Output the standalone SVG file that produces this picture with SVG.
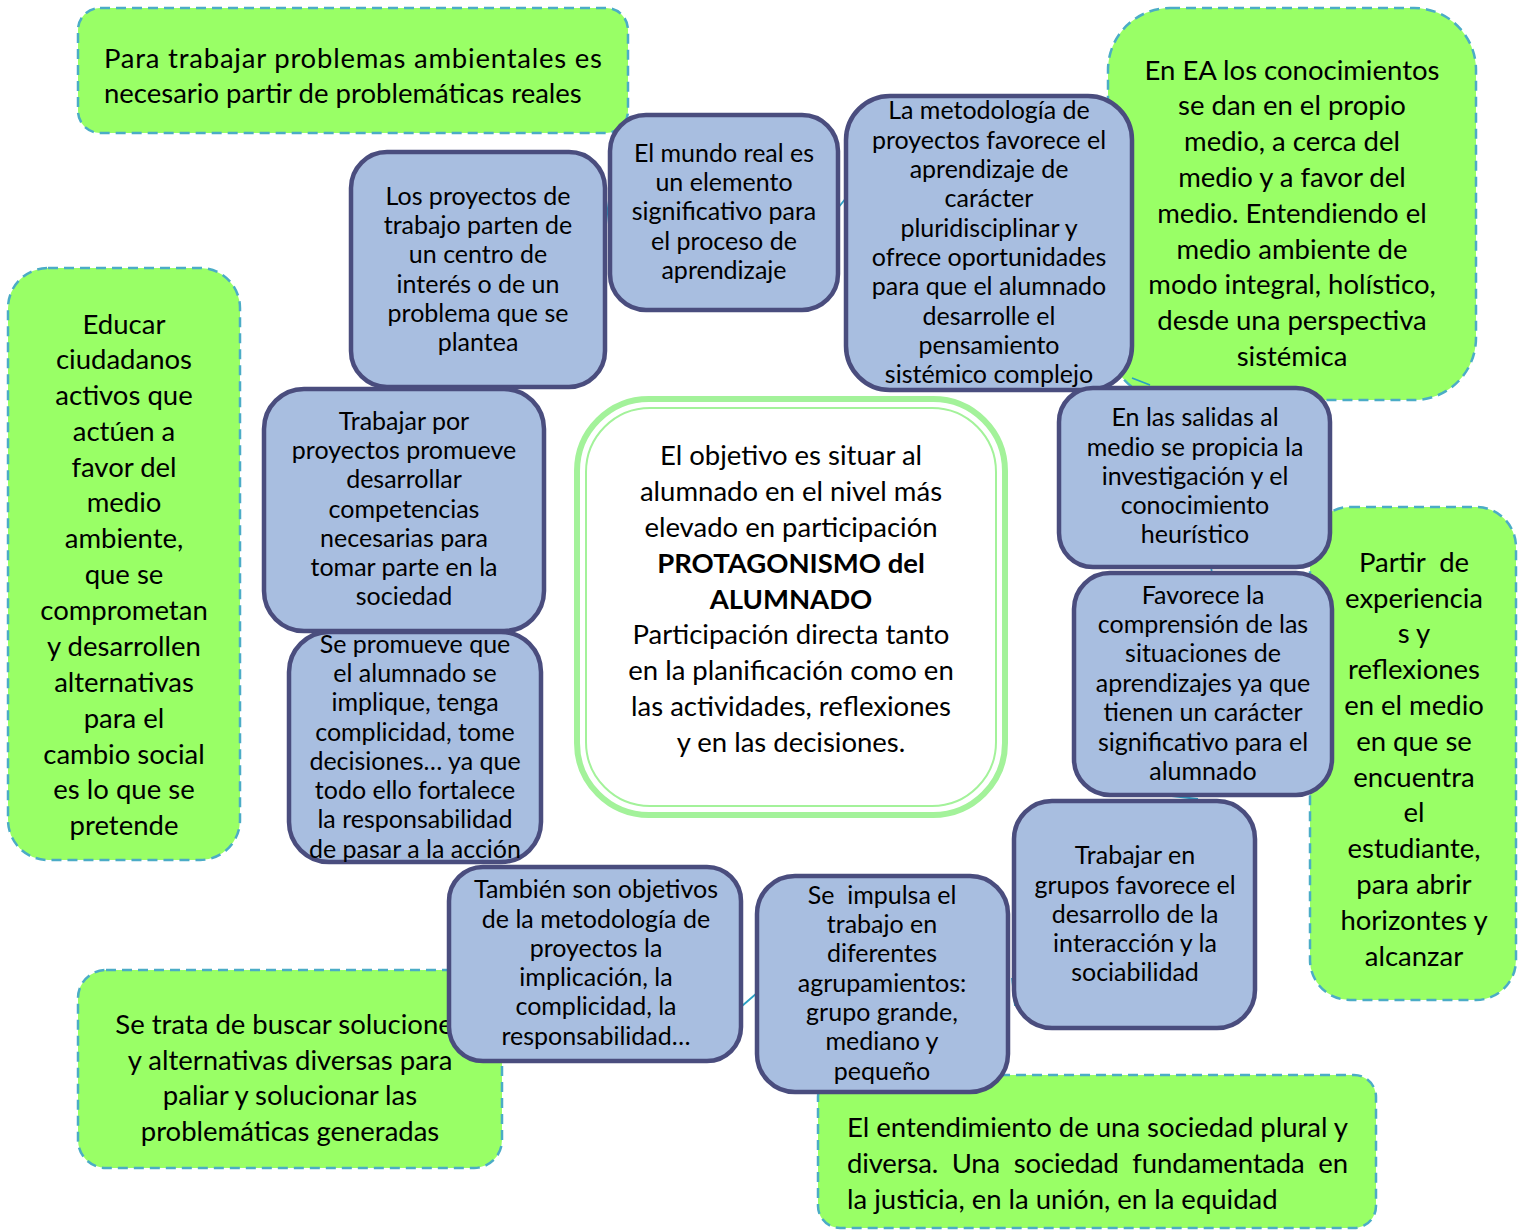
<svg xmlns="http://www.w3.org/2000/svg" width="1518" height="1232" viewBox="0 0 1518 1232">
<style>
.g{fill:#99FF66;stroke:#4BACC6;stroke-width:2.5;stroke-dasharray:10 6}
.b{fill:#A8BEE0;stroke:#4A4D7E;stroke-width:4.5}
text{font-family:Lato,"Open Sans","Liberation Sans",sans-serif;fill:#000;white-space:pre}
.tg{font-size:27.5px;text-anchor:middle}
.tl{font-size:27.5px;text-anchor:start}
.tb{font-size:25px;text-anchor:middle}
.tc{font-size:27.5px;text-anchor:middle}
.bold{font-weight:bold}
.cn{fill:none;stroke:#2AA0C4;stroke-width:1.8}
</style>
<rect width="1518" height="1232" fill="#fff"/>

<g id="green-topleft">
<rect class="g" x="78" y="8" width="550" height="125" rx="22"/>
<text class="tl" x="104" y="68" textLength="498" lengthAdjust="spacing">Para trabajar problemas ambientales es</text>
<text class="tl" x="104" y="103">necesario partir de problemáticas reales</text>
</g>

<g id="green-topright">
<rect class="g" x="1108" y="8" width="368" height="392" rx="62"/>
<text class="tg"><tspan x="1292" y="80">En EA los conocimientos</tspan><tspan x="1292" y="115">se dan en el propio</tspan><tspan x="1292" y="151">medio, a cerca del</tspan><tspan x="1292" y="187">medio y a favor del</tspan><tspan x="1292" y="223">medio. Entendiendo el</tspan><tspan x="1292" y="259">medio ambiente de</tspan><tspan x="1292" y="294">modo integral, holístico,</tspan><tspan x="1292" y="330">desde una perspectiva</tspan><tspan x="1292" y="366">sistémica</tspan></text>
</g>

<g id="green-left">
<rect class="g" x="8" y="268" width="232" height="592" rx="40"/>
<text class="tg"><tspan x="124" y="334">Educar</tspan><tspan x="124" y="369">ciudadanos</tspan><tspan x="124" y="405">activos que</tspan><tspan x="124" y="441">actúen a</tspan><tspan x="124" y="477">favor del</tspan><tspan x="124" y="512">medio</tspan><tspan x="124" y="548">ambiente,</tspan><tspan x="124" y="584">que se</tspan><tspan x="124" y="620">comprometan</tspan><tspan x="124" y="656">y desarrollen</tspan><tspan x="124" y="692">alternativas</tspan><tspan x="124" y="728">para el</tspan><tspan x="124" y="764">cambio social</tspan><tspan x="124" y="799">es lo que se</tspan><tspan x="124" y="835">pretende</tspan></text>
</g>

<g id="green-right">
<rect class="g" x="1310" y="507" width="206" height="493" rx="40"/>
<text class="tg"><tspan x="1414" y="572">Partir  de</tspan><tspan x="1414" y="608">experiencia</tspan><tspan x="1414" y="643">s y</tspan><tspan x="1414" y="679">reflexiones</tspan><tspan x="1414" y="715">en el medio</tspan><tspan x="1414" y="751">en que se</tspan><tspan x="1414" y="787">encuentra</tspan><tspan x="1414" y="822">el</tspan><tspan x="1414" y="858">estudiante,</tspan><tspan x="1414" y="894">para abrir</tspan><tspan x="1414" y="930">horizontes y</tspan><tspan x="1414" y="966">alcanzar</tspan></text>
</g>

<g id="green-bottomleft">
<rect class="g" x="78" y="970" width="424" height="198" rx="28"/>
<text class="tg"><tspan x="290" y="1034">Se trata de buscar soluciones</tspan><tspan x="290" y="1070">y alternativas diversas para</tspan><tspan x="290" y="1105">paliar y solucionar las</tspan><tspan x="290" y="1141">problemáticas generadas</tspan></text>
</g>

<g id="green-bottomright">
<rect class="g" x="818" y="1075" width="558" height="153" rx="22"/>
<text class="tl" x="847" y="1137" textLength="501" lengthAdjust="spacing">El entendimiento de una sociedad plural y</text>
<text class="tl" x="847" y="1173" textLength="501" lengthAdjust="spacing">diversa.  Una  sociedad  fundamentada  en</text>
<text class="tl" x="847" y="1209">la justicia, en la unión, en la equidad</text>
</g>

<g id="center">
<rect x="577" y="399" width="428" height="416" rx="72" fill="#fff" stroke="#A3F29A" stroke-width="6"/>
<rect x="586" y="408" width="410" height="398" rx="64" fill="none" stroke="#A3F29A" stroke-width="2"/>
<text class="tc"><tspan x="791" y="465">El objetivo es situar al</tspan><tspan x="791" y="501">alumnado en el nivel más</tspan><tspan x="791" y="537">elevado en participación</tspan><tspan x="791" y="573" class="bold">PROTAGONISMO del</tspan><tspan x="791" y="609" class="bold">ALUMNADO</tspan><tspan x="791" y="644">Participación directa tanto</tspan><tspan x="791" y="680">en la planificación como en</tspan><tspan x="791" y="716">las actividades, reflexiones</tspan><tspan x="791" y="752">y en las decisiones.</tspan></text>
</g>

<g id="connectors">
<path class="cn" d="M603,183 Q609,212 611,252"/>
<path class="cn" d="M838,208 L846,198"/>
<path class="cn" d="M1132,378 L1150,385"/>
<path class="cn" d="M1211,566 L1212,574"/>
<path class="cn" d="M1163,795 L1198,799"/>
<path class="cn" d="M1012,978 L1015,1006"/>
<path class="cn" d="M742,1006 L757,993"/>
</g>

<g id="node-proyectos-trabajo">
<rect class="b" x="351" y="152" width="254" height="235" rx="36"/>
<text class="tb"><tspan x="478" y="205">Los proyectos de</tspan><tspan x="478" y="234">trabajo parten de</tspan><tspan x="478" y="263">un centro de</tspan><tspan x="478" y="293">interés o de un</tspan><tspan x="478" y="322">problema que se</tspan><tspan x="478" y="351">plantea</tspan></text>
</g>

<g id="node-mundo-real">
<rect class="b" x="610" y="115" width="228" height="195" rx="36"/>
<text class="tb"><tspan x="724" y="162">El mundo real es</tspan><tspan x="724" y="191">un elemento</tspan><tspan x="724" y="220">significativo para</tspan><tspan x="724" y="250">el proceso de</tspan><tspan x="724" y="279">aprendizaje</tspan></text>
</g>

<g id="node-metodologia">
<rect class="b" x="846" y="96" width="286" height="294" rx="44"/>
<text class="tb"><tspan x="989" y="119">La metodología de</tspan><tspan x="989" y="149">proyectos favorece el</tspan><tspan x="989" y="178">aprendizaje de</tspan><tspan x="989" y="207">carácter</tspan><tspan x="989" y="237">pluridisciplinar y</tspan><tspan x="989" y="266">ofrece oportunidades</tspan><tspan x="989" y="295">para que el alumnado</tspan><tspan x="989" y="325">desarrolle el</tspan><tspan x="989" y="354">pensamiento</tspan><tspan x="989" y="383">sistémico complejo</tspan></text>
</g>

<g id="node-salidas">
<rect class="b" x="1059" y="388" width="271" height="179" rx="34"/>
<text class="tb"><tspan x="1195" y="426">En las salidas al</tspan><tspan x="1195" y="456">medio se propicia la</tspan><tspan x="1195" y="485">investigación y el</tspan><tspan x="1195" y="514">conocimiento</tspan><tspan x="1195" y="543">heurístico</tspan></text>
</g>

<g id="node-favorece">
<rect class="b" x="1074" y="573" width="258" height="222" rx="36"/>
<text class="tb"><tspan x="1203" y="604">Favorece la</tspan><tspan x="1203" y="633">comprensión de las</tspan><tspan x="1203" y="662">situaciones de</tspan><tspan x="1203" y="692">aprendizajes ya que</tspan><tspan x="1203" y="721">tienen un carácter</tspan><tspan x="1203" y="751">significativo para el</tspan><tspan x="1203" y="780">alumnado</tspan></text>
</g>

<g id="node-grupos">
<rect class="b" x="1014" y="801" width="241" height="227" rx="38"/>
<text class="tb"><tspan x="1135" y="864">Trabajar en</tspan><tspan x="1135" y="894">grupos favorece el</tspan><tspan x="1135" y="923">desarrollo de la</tspan><tspan x="1135" y="952">interacción y la</tspan><tspan x="1135" y="981">sociabilidad</tspan></text>
</g>

<g id="node-agrupamientos">
<rect class="b" x="757" y="876" width="251" height="216" rx="38"/>
<text class="tb"><tspan x="882" y="904">Se  impulsa el</tspan><tspan x="882" y="933">trabajo en</tspan><tspan x="882" y="962">diferentes</tspan><tspan x="882" y="992">agrupamientos:</tspan><tspan x="882" y="1021">grupo grande,</tspan><tspan x="882" y="1050">mediano y</tspan><tspan x="882" y="1080">pequeño</tspan></text>
</g>

<g id="node-tambien">
<rect class="b" x="449" y="867" width="292" height="194" rx="34"/>
<text class="tb"><tspan x="596" y="898">También son objetivos</tspan><tspan x="596" y="928">de la metodología de</tspan><tspan x="596" y="957">proyectos la</tspan><tspan x="596" y="986">implicación, la</tspan><tspan x="596" y="1015">complicidad, la</tspan><tspan x="596" y="1045">responsabilidad…</tspan></text>
</g>

<g id="node-trabajar-proyectos">
<rect class="b" x="264" y="389" width="280" height="242" rx="40"/>
<text class="tb"><tspan x="404" y="430">Trabajar por</tspan><tspan x="404" y="459">proyectos promueve</tspan><tspan x="404" y="488">desarrollar</tspan><tspan x="404" y="518">competencias</tspan><tspan x="404" y="547">necesarias para</tspan><tspan x="404" y="576">tomar parte en la</tspan><tspan x="404" y="605">sociedad</tspan></text>
</g>

<g id="node-promueve">
<rect class="b" x="289" y="632" width="252" height="230" rx="40"/>
<text class="tb"><tspan x="415" y="653">Se promueve que</tspan><tspan x="415" y="682">el alumnado se</tspan><tspan x="415" y="711">implique, tenga</tspan><tspan x="415" y="741">complicidad, tome</tspan><tspan x="415" y="770">decisiones… ya que</tspan><tspan x="415" y="799">todo ello fortalece</tspan><tspan x="415" y="828">la responsabilidad</tspan><tspan x="415" y="858">de pasar a la acción</tspan></text>
</g>
</svg>
